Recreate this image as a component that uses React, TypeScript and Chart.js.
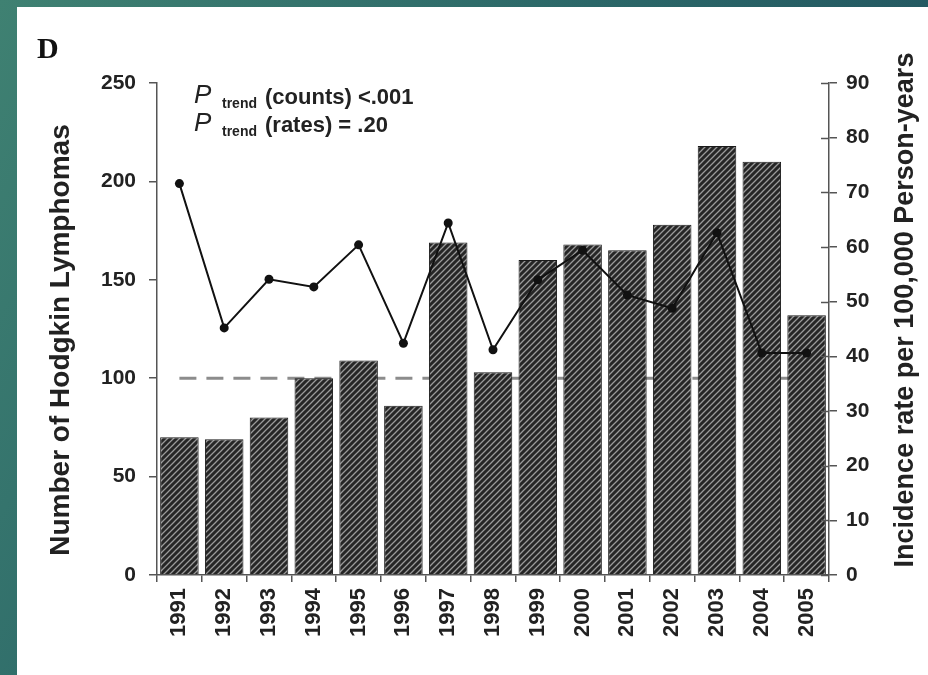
import React, { useEffect, useRef } from 'react';
import { Chart, registerables } from 'chart.js';

Chart.register(...registerables);

const years = ['1991', '1992', '1993', '1994', '1995', '1996', '1997', '1998', '1999', '2000', '2001', '2002', '2003', '2004', '2005'];
const counts = [70, 69, 80, 100, 109, 86, 169, 103, 160, 168, 165, 178, 218, 210, 132];
const rates = [71.6, 45.2, 54.1, 52.7, 60.4, 42.4, 64.4, 41.2, 54.0, 59.4, 51.2, 48.8, 62.6, 40.6, 40.6];
const referenceCount = [100, 100, 100, 100, 100, 100, 100, 100, 100, 100, 100, 100, 100, 100, 100];
const countAxis = { min: 0, max: 250, step: 50 };
const rateAxis = { min: 0, max: 90, step: 10 };
const leftTitle = 'Number of Hodgkin Lymphomas';
const rightTitle = 'Incidence rate per 100,000 Person-years';
const panelLetter = 'D';
const trendLines = [
  { sub: 'trend', rest: '(counts) <.001' },
  { sub: 'trend', rest: '(rates) = .20' },
];

const SANS = '"Liberation Sans", Arial, sans-serif';

function makeHatch(): CanvasPattern | string {
  const s = 6;
  const c = document.createElement('canvas');
  c.width = s;
  c.height = s;
  const g = c.getContext('2d');
  if (!g) return '#333';
  g.fillStyle = '#262626';
  g.fillRect(0, 0, s, s);
  g.strokeStyle = '#9a9a9a';
  g.lineWidth = 1.3;
  g.beginPath();
  g.moveTo(-1, 1);
  g.lineTo(1, -1);
  g.moveTo(0, s);
  g.lineTo(s, 0);
  g.moveTo(s - 1, s + 1);
  g.lineTo(s + 1, s - 1);
  g.stroke();
  const p = g.createPattern(c, 'repeat');
  return p || '#333';
}

const extrasPlugin = {
  id: 'extras',
  afterDraw(chart: any) {
    const ctx = chart.ctx;
    const y1 = chart.scales.y1;
    const area = chart.chartArea;
    ctx.save();
    // inner tick marks on right axis
    ctx.strokeStyle = '#555';
    ctx.lineWidth = 1.5;
    y1.ticks.forEach((t: any) => {
      const py = Math.round(y1.getPixelForValue(t.value)) + 0.5;
      ctx.beginPath();
      ctx.moveTo(area.right - 8, py);
      ctx.lineTo(area.right, py);
      ctx.stroke();
    });
    ctx.restore();

    // axis titles (both read bottom to top)
    ctx.save();
    ctx.fillStyle = '#222';
    ctx.font = `bold 28px ${SANS}`;
    ctx.textAlign = 'center';
    ctx.textBaseline = 'middle';
    ctx.translate(61, 340);
    ctx.rotate(-Math.PI / 2);
    ctx.fillText(leftTitle, 0, 0);
    ctx.restore();

    ctx.save();
    ctx.fillStyle = '#222';
    ctx.font = `bold 27px ${SANS}`;
    ctx.textAlign = 'center';
    ctx.textBaseline = 'middle';
    ctx.translate(906, 310);
    ctx.rotate(-Math.PI / 2);
    ctx.fillText(rightTitle, 0, 0);
    ctx.restore();

    ctx.save();
    ctx.fillStyle = '#111';
    ctx.textBaseline = 'alphabetic';
    ctx.textAlign = 'left';
    ctx.font = 'bold 30px "Liberation Serif", "Times New Roman", serif';
    ctx.fillText(panelLetter, 37, 58);
    const baselines = [104, 132];
    trendLines.forEach((ln, i) => {
      const by = baselines[i];
      ctx.fillStyle = '#222';
      ctx.font = `italic 26px ${SANS}`;
      ctx.fillText('P', 194, by - 1);
      ctx.font = `bold 14px ${SANS}`;
      ctx.fillText(ln.sub, 222, by + 4);
      ctx.font = `bold 22px ${SANS}`;
      ctx.fillText(ln.rest, 265, by);
    });
    ctx.restore();
  },
};

export default function App() {
  const ref = useRef<HTMLCanvasElement | null>(null);

  useEffect(() => {
    const canvas = ref.current;
    if (!canvas) return;
    const hatch = makeHatch();
    const tickFont = { family: SANS, size: 21, weight: 'bold' };
    const chart = new Chart(canvas, {
      type: 'bar',
      data: {
        labels: years,
        datasets: [
          {
            type: 'line',
            label: 'Rate',
            data: rates,
            yAxisID: 'y1',
            borderColor: '#111',
            backgroundColor: '#111',
            borderWidth: 2,
            pointRadius: 4.5,
            pointBackgroundColor: '#111',
            pointBorderWidth: 0,
            tension: 0,
            order: 0,
          } as any,
          {
            type: 'bar',
            label: 'Counts',
            data: counts,
            yAxisID: 'y',
            backgroundColor: hatch as any,
            borderColor: '#1a1a1a',
            borderWidth: 1,
            barPercentage: 0.86,
            categoryPercentage: 1,
            order: 1,
          } as any,
          {
            type: 'line',
            label: 'Reference',
            data: referenceCount,
            yAxisID: 'y',
            borderColor: '#8c8c8c',
            borderWidth: 3,
            borderDash: [17, 10],
            pointRadius: 0,
            order: 2,
          } as any,
        ],
      },
      options: {
        animation: false,
        responsive: false,
        maintainAspectRatio: false,
        events: [],
        layout: { padding: { top: 83, left: 0, right: 0, bottom: 0 } },
        plugins: {
          legend: { display: false },
          tooltip: { enabled: false },
          title: { display: false },
        },
        scales: {
          x: {
            grid: {
              display: true,
              drawOnChartArea: false,
              drawTicks: true,
              tickLength: 7,
              color: '#555',
              lineWidth: 1.5,
              offset: true,
            },
            border: { display: true, color: '#555', width: 1.5 },
            ticks: {
              minRotation: 90,
              maxRotation: 90,
              autoSkip: false,
              padding: 6,
              color: '#222',
              font: { family: SANS, size: 22, weight: 'bold' },
            },
            afterFit(scale: any) {
              scale.height = 100;
            },
          },
          y: {
            position: 'left',
            min: countAxis.min,
            max: countAxis.max,
            ticks: {
              stepSize: countAxis.step,
              padding: 13,
              color: '#222',
              font: tickFont,
            },
            grid: {
              drawOnChartArea: false,
              drawTicks: true,
              tickLength: 8,
              color: '#555',
              lineWidth: 1.5,
            },
            border: { display: true, color: '#555', width: 1.5 },
            afterFit(scale: any) {
              scale.width = 157;
            },
          },
          y1: {
            position: 'right',
            min: rateAxis.min,
            max: rateAxis.max,
            ticks: {
              stepSize: rateAxis.step,
              padding: 9,
              color: '#222',
              font: tickFont,
            },
            grid: {
              drawOnChartArea: false,
              drawTicks: true,
              tickLength: 8,
              color: '#555',
              lineWidth: 1.5,
            },
            border: { display: true, color: '#555', width: 1.5 },
            afterFit(scale: any) {
              scale.width = 99;
            },
          },
        },
      } as any,
      plugins: [extrasPlugin],
    });
    return () => chart.destroy();
  }, []);

  return (
    <div
      style={{
        position: 'absolute',
        left: 0,
        top: 0,
        width: 928,
        height: 675,
        overflow: 'hidden',
        background: 'linear-gradient(120deg, #3f8172 0%, #2b6768 45%, #1c4a5b 100%)',
      }}
    >
      <div style={{ position: 'absolute', left: 17, top: 7, right: 0, bottom: 0, background: '#ffffff' }} />
      <canvas ref={ref} width={928} height={675} style={{ position: 'absolute', left: 0, top: 0, width: 928, height: 675 }} />
    </div>
  );
}
